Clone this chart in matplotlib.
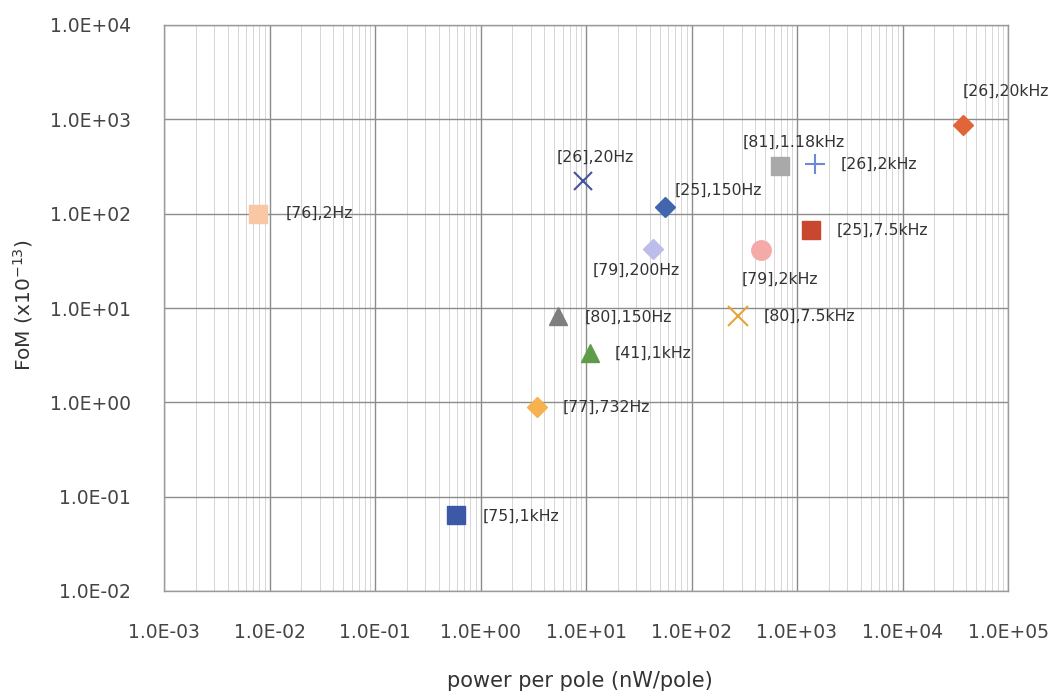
import matplotlib
matplotlib.use("Agg")
import matplotlib.pyplot as plt
from matplotlib.ticker import LogLocator, FixedLocator, NullFormatter

# Survey data: power per pole (nW/pole) vs figure of merit (x1e-13)
labels = ["[76],2Hz", "[26],20Hz", "[25],150Hz", "[81],1.18kHz", "[26],2kHz",
          "[25],7.5kHz", "[79],200Hz", "[79],2kHz", "[26],20kHz", "[80],150Hz",
          "[80],7.5kHz", "[41],1kHz", "[77],732Hz", "[75],1kHz"]
power = [0.0078, 9.3, 56, 683, 1466,
         1343, 43, 451, 37400, 5.4,
         273, 10.9, 3.4, 0.59]
fom = [100, 222, 117, 320, 336,
       67, 42, 41, 870, 8.2,
       8.2, 3.3, 0.89, 0.064]

markers = ["s", "x", "D", "s", "+", "s", "D", "o", "D", "^", "x", "^", "D", "s"]
colors = ["#F9C7A4", "#44549E", "#4166AE", "#A9A9A9", "#6A8BD6",
          "#C9472F", "#BDBDEB", "#F4AAA9", "#E2653A", "#7F7F7F",
          "#E9A43A", "#5E9C4A", "#F5B24E", "#3D58A6"]
sizes = [13, 13, 10, 13, 14, 13, 10, 14, 10, 13, 14, 13, 10, 13]
# label offsets (points) and horizontal alignment
offsets = [(20, 0, "left"), (9, 17, "center"), (7, 12, "left"), (10, 17, "center"),
           (19, 0, "left"), (19, 0, "left"), (-12, -15, "center"), (14, -21, "center"),
           (31, 24, "center"), (19, -1, "left"), (19, 0, "left"), (18, 0, "left"),
           (19, 0, "left"), (19, -1, "left")]

x_ticks = [1e-3, 1e-2, 1e-1, 1e0, 1e1, 1e2, 1e3, 1e4, 1e5]
x_tick_labels = ["1.0E-03", "1.0E-02", "1.0E-01", "1.0E+00", "1.0E+01",
                 "1.0E+02", "1.0E+03", "1.0E+04", "1.0E+05"]
y_ticks = [1e-2, 1e-1, 1e0, 1e1, 1e2, 1e3, 1e4]
y_tick_labels = ["1.0E-02", "1.0E-01", "1.0E+00", "1.0E+01",
                 "1.0E+02", "1.0E+03", "1.0E+04"]

W, H = 1057, 696
fig = plt.figure(figsize=(W / 100, H / 100), dpi=100)
ax = fig.add_axes([164 / W, 1 - 591 / H, (1008 - 164) / W, (591 - 25) / H])
ax.set_xscale("log")
ax.set_yscale("log")
ax.set_xlim(1e-3, 1e5)
ax.set_ylim(1e-2, 1e4)

for lab, xv, yv, m, c, s, (dx, dy, ha) in zip(labels, power, fom, markers,
                                             colors, sizes, offsets):
    if m in ("x", "+"):
        ax.plot(xv, yv, linestyle="none", marker=m, markersize=s,
                markeredgecolor=c, markeredgewidth=1.5, zorder=3)
    else:
        ax.plot(xv, yv, linestyle="none", marker=m, markersize=s,
                markerfacecolor=c, markeredgecolor=c, zorder=3)
    ax.annotate(lab, (xv, yv), xytext=(dx, dy), textcoords="offset points",
                ha=ha, va="center", fontsize=11.3, color="#333333", zorder=4)

ax.xaxis.set_major_locator(FixedLocator(x_ticks))
ax.set_xticklabels(x_tick_labels)
ax.xaxis.set_minor_locator(LogLocator(base=10, subs=range(2, 10), numticks=100))
ax.xaxis.set_minor_formatter(NullFormatter())
ax.yaxis.set_major_locator(FixedLocator(y_ticks))
ax.set_yticklabels(y_tick_labels)
ax.yaxis.set_minor_locator(FixedLocator([]))

ax.grid(True, which="major", axis="both", color="#8C8C8C", linewidth=1.0)
ax.grid(True, which="minor", axis="x", color="#D6D6D6", linewidth=0.7)
ax.set_axisbelow(True)
for sp in ax.spines.values():
    sp.set_color("#9A9A9A")
    sp.set_linewidth(1.0)

ax.tick_params(axis="both", which="both", length=0, labelsize=13.5,
               labelcolor="#444444")
ax.tick_params(axis="x", pad=23)
ax.tick_params(axis="y", pad=24)

fig.text(580 / W, 1 - 681 / H, "power per pole (nW/pole)", fontsize=15,
         color="#333333", ha="center", va="center")
fig.text(23 / W, 1 - 305 / H, "FoM (x10$^{-13}$)", fontsize=14.5, color="#333333",
         ha="center", va="center", rotation=90)

fig.savefig("out.png", dpi=100)
